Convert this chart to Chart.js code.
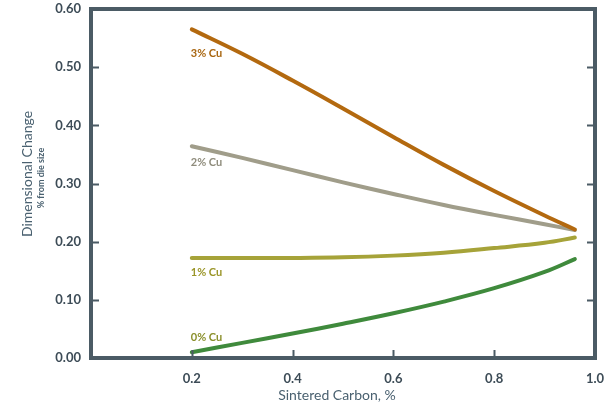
<!DOCTYPE html>
<html>
<head>
<meta charset="utf-8">
<script src="https://cdn.jsdelivr.net/npm/chart.js@4.4.1/dist/chart.umd.min.js"></script>
<style>
  html, body { margin: 0; padding: 0; background: #fff; }
  #wrap { width: 606px; height: 416px; }
</style>
</head>
<body>
<div id="wrap"><canvas id="dcChart" width="606" height="416"></canvas></div>
<script>
// sintered carbon (%) and dimensional change (% from die size)
const carbon = [0.2, 0.3, 0.4, 0.5, 0.6, 0.7, 0.8, 0.9, 0.96];
const cu3 = [0.565, 0.523, 0.477, 0.429, 0.380, 0.332, 0.287, 0.245, 0.221];
const cu2 = [0.364, 0.344, 0.323, 0.302, 0.282, 0.263, 0.246, 0.230, 0.220];
const cu1 = [0.172, 0.172, 0.172, 0.173, 0.176, 0.181, 0.189, 0.198, 0.207];
const cu0 = [0.010, 0.026, 0.042, 0.059, 0.077, 0.097, 0.120, 0.148, 0.170];

const seriesNames = ['3% Cu', '2% Cu', '1% Cu', '0% Cu'];
const seriesColors = ['#b3690f', '#a09d8a', '#a6a339', '#3f8a3c'];
const labelColors = ['#a8650f', '#8f8c7c', '#9a9528', '#8a8f2a'];

const xTicks = [0.2, 0.4, 0.6, 0.8, 1.0];
const yTicks = [0.0, 0.1, 0.2, 0.3, 0.4, 0.5, 0.6];

const axisColor = '#4b5b65';
const textColor = '#3d4c57';
const fontFam = 'Lato, "Open Sans", sans-serif';

function toPoints(ys) {
    return carbon.map((c, i) => ({ x: c, y: ys[i] }));
}

const allSeries = [cu3, cu2, cu1, cu0];

// frame, inward ticks, series labels and axis titles
const framePlugin = {
    id: 'frame',
    afterDraw(chart) {
        const ctx = chart.ctx;
        const a = chart.chartArea;
        const xs = chart.scales.x;
        const ys = chart.scales.y;
        ctx.save();
        ctx.strokeStyle = axisColor;
        ctx.lineWidth = 2;
        xTicks.forEach(v => {
            if (v >= 1) return;
            const px = Math.round(xs.getPixelForValue(v)) + 0.5;
            ctx.beginPath();
            ctx.moveTo(px, a.bottom);
            ctx.lineTo(px, a.bottom - 8);
            ctx.stroke();
        });
        yTicks.forEach(v => {
            if (v <= 0 || v >= 0.6) return;
            const py = Math.round(ys.getPixelForValue(v)) + 0.5;
            ctx.beginPath();
            ctx.moveTo(a.left, py);
            ctx.lineTo(a.left + 8, py);
            ctx.moveTo(a.right, py);
            ctx.lineTo(a.right - 8, py);
            ctx.stroke();
        });
        ctx.lineWidth = 4;
        ctx.strokeRect(a.left, a.top, a.right - a.left, a.bottom - a.top);

        // series labels under/over the start of each curve
        const offsets = [24, 16, 14, -15];
        ctx.font = 'bold 11px ' + fontFam;
        ctx.textAlign = 'left';
        ctx.textBaseline = 'middle';
        allSeries.forEach((s, i) => {
            const px = xs.getPixelForValue(carbon[0]) - 1;
            const py = ys.getPixelForValue(s[0]) + offsets[i];
            ctx.fillStyle = labelColors[i];
            ctx.fillText(seriesNames[i], px, py);
        });

        // axis titles
        ctx.fillStyle = '#4a6170';
        ctx.textAlign = 'center';
        ctx.font = '14px ' + fontFam;
        ctx.fillText('Sintered Carbon, %', 337, 395);
        ctx.translate(27, 174);
        ctx.rotate(-Math.PI / 2);
        ctx.fillText('Dimensional Change', 0, 0);
        ctx.font = 'bold 9px ' + fontFam;
        ctx.fillText('% from die size', -4, 14);
        ctx.restore();
    }
};

new Chart(document.getElementById('dcChart'), {
    type: 'line',
    data: {
        datasets: allSeries.map((s, i) => ({
            label: seriesNames[i],
            data: toPoints(s),
            borderColor: seriesColors[i],
            borderWidth: 4,
            borderCapStyle: 'round',
            pointRadius: 0,
            tension: 0.4,
            fill: false
        }))
    },
    options: {
        responsive: false,
        animation: false,
        layout: { padding: { top: 9, right: 11, left: 0, bottom: 0 } },
        plugins: {
            legend: { display: false },
            tooltip: { enabled: false }
        },
        scales: {
            x: {
                type: 'linear',
                min: 0,
                max: 1,
                afterFit(scale) {
                    scale.height = 58;
                    scale.paddingLeft = 0;
                    scale.paddingRight = 0;
                },
                afterBuildTicks(scale) { scale.ticks = xTicks.map(v => ({ value: v })); },
                grid: { display: false, drawTicks: false },
                border: { display: false },
                ticks: {
                    padding: 13,
                    color: textColor,
                    font: { family: fontFam, size: 13, weight: 'bold' },
                    callback: v => v.toFixed(1)
                }
            },
            y: {
                type: 'linear',
                min: 0,
                max: 0.6,
                afterFit(scale) {
                    scale.width = 91;
                    scale.paddingTop = 0;
                    scale.paddingBottom = 0;
                },
                afterBuildTicks(scale) { scale.ticks = yTicks.map(v => ({ value: v })); },
                grid: { display: false, drawTicks: false },
                border: { display: false },
                ticks: {
                    padding: 10,
                    color: textColor,
                    font: { family: fontFam, size: 13, weight: 'bold' },
                    callback: v => v.toFixed(2)
                }
            }
        }
    },
    plugins: [framePlugin]
});
</script>
</body>
</html>
